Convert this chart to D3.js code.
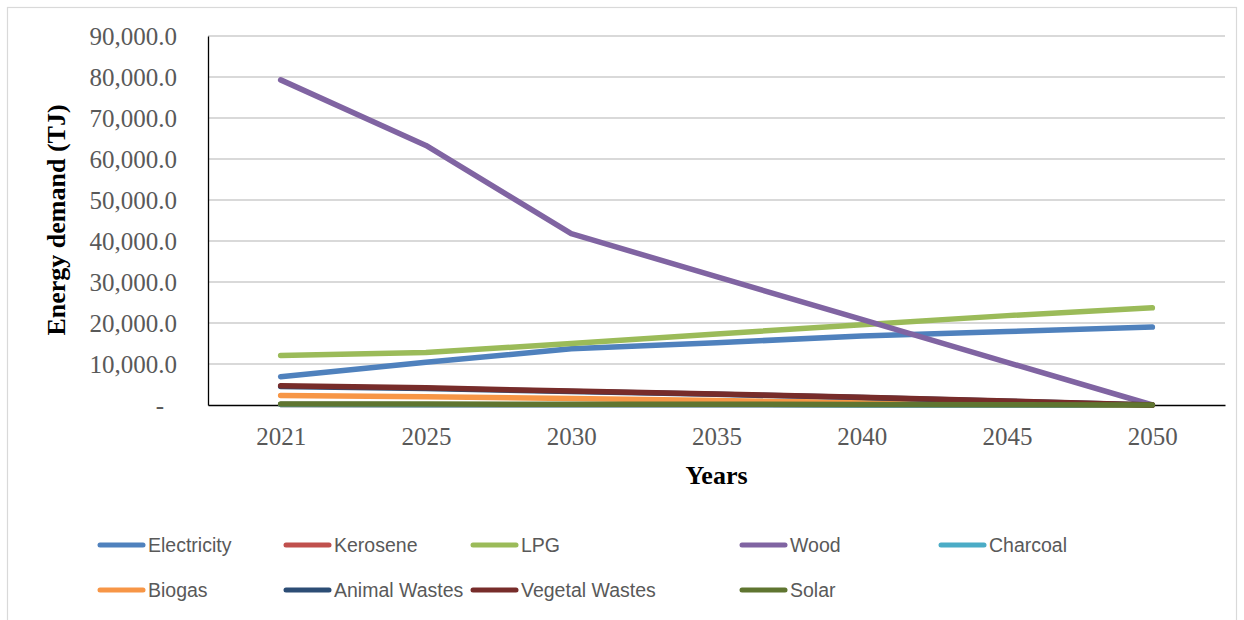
<!DOCTYPE html>
<html>
<head>
<meta charset="utf-8">
<script src="https://cdn.jsdelivr.net/npm/d3@7"></script>
<style>
  body { margin: 0; background: #fff; }
  .tick text { fill: #595959; }
</style>
</head>
<body>
<div id="chart"></div>
<script>
let years = ["2021", "2025", "2030", "2035", "2040", "2045", "2050"];
let seriesNames = ["Electricity", "Kerosene", "LPG", "Wood", "Charcoal", "Biogas", "Animal Wastes", "Vegetal Wastes", "Solar"];

let electricity = [6900, 10400, 13700, 15200, 16800, 17900, 19000];
let kerosene = [100, 80, 60, 40, 30, 20, 0];
let lpg = [12100, 12800, 15000, 17300, 19600, 21800, 23700];
let wood = [79300, 63300, 41800, 31300, 20900, 10400, 0];
let charcoal = [100, 80, 60, 40, 30, 20, 0];
let biogas = [2300, 2000, 1600, 1100, 600, 300, 0];
let animalWastes = [4500, 4000, 3300, 2600, 1800, 900, 0];
let vegetalWastes = [4700, 4200, 3400, 2700, 1900, 1000, 0];
let solar = [250, 230, 200, 170, 130, 80, 0];

let yTicks = [0, 10000, 20000, 30000, 40000, 50000, 60000, 70000, 80000, 90000];

let colors = ["#4F81BD", "#C0504D", "#9BBB59", "#8064A2", "#4BACC6", "#F79646", "#2C4D75", "#772C2A", "#5F7530"];

let allValues = [electricity, kerosene, lpg, wood, charcoal, biogas, animalWastes, vegetalWastes, solar];

let width = 1244;
let height = 620;
let plotLeft = 208, plotRight = 1225, plotTop = 36, plotBottom = 405;

let svg = d3.select("#chart")
    .append("svg")
    .attr("width", width)
    .attr("height", height);

svg.append("rect")
    .attr("x", 7.5)
    .attr("y", 7.5)
    .attr("width", 1229)
    .attr("height", 640)
    .attr("fill", "#fff")
    .attr("stroke", "#d9d9d9")
    .attr("stroke-width", 1.2);

let x = d3.scalePoint()
    .domain(years)
    .range([plotLeft, plotRight])
    .padding(0.5);

let y = d3.scaleLinear()
    .domain([0, 90000])
    .range([plotBottom, plotTop]);

// gridlines
svg.append("g")
    .selectAll("line")
    .data(yTicks.filter(d => d > 0))
    .enter().append("line")
    .attr("x1", plotLeft)
    .attr("x2", plotRight)
    .attr("y1", d => y(d))
    .attr("y2", d => y(d))
    .attr("stroke", "#d9d9d9")
    .attr("stroke-width", 1.8);

// y axis
let yAxis = svg.append("g")
    .attr("transform", "translate(" + plotLeft + ",0)")
    .call(d3.axisLeft(y)
        .tickValues(yTicks)
        .tickSize(0)
        .tickPadding(31)
        .tickFormat(d => d === 0 ? "-" : d3.format(",.1f")(d)));
yAxis.select(".domain").attr("stroke", "#000").attr("stroke-width", 1.3);
yAxis.selectAll("text")
    .style("font-family", "'Liberation Serif', 'Times New Roman', serif")
    .style("font-size", "25px")
    .attr("dx", d => d === 0 ? -13 : 0);

// x axis
let xAxis = svg.append("g")
    .attr("transform", "translate(0," + plotBottom + ")")
    .call(d3.axisBottom(x).tickSize(0).tickPadding(22));
xAxis.select(".domain").attr("stroke", "#000").attr("stroke-width", 1.6);
xAxis.selectAll("text")
    .style("font-family", "'Liberation Serif', 'Times New Roman', serif")
    .style("font-size", "25px");

// axis titles
svg.append("text")
    .attr("transform", "translate(65,220) rotate(-90)")
    .attr("text-anchor", "middle")
    .style("font-family", "'Liberation Serif', 'Times New Roman', serif")
    .style("font-size", "26px")
    .style("font-weight", "bold")
    .text("Energy demand (TJ)");

svg.append("text")
    .attr("x", (plotLeft + plotRight) / 2)
    .attr("y", 484)
    .attr("text-anchor", "middle")
    .style("font-family", "'Liberation Serif', 'Times New Roman', serif")
    .style("font-size", "26px")
    .style("font-weight", "bold")
    .text("Years");

// lines
let line = d3.line()
    .x((d, i) => x(years[i]))
    .y(d => y(d));

svg.append("g")
    .selectAll("path")
    .data(allValues)
    .enter().append("path")
    .attr("d", line)
    .attr("fill", "none")
    .attr("stroke", (d, i) => colors[i])
    .attr("stroke-width", 5.5)
    .attr("stroke-linecap", "round")
    .attr("stroke-linejoin", "round");

// legend
let legendCols = [98, 284, 471, 740, 939];
let legendRows = [545, 590];
let legendPos = [[0, 0], [1, 0], [2, 0], [3, 0], [4, 0], [0, 1], [1, 1], [2, 1], [3, 1]];

let legendG = svg.selectAll(".legend")
    .data(seriesNames)
    .enter().append("g")
    .attr("class", "legend")
    .attr("transform", (d, i) => "translate(" + legendCols[legendPos[i][0]] + "," + legendRows[legendPos[i][1]] + ")");

legendG.append("line")
    .attr("x1", 2)
    .attr("x2", 45)
    .attr("stroke", (d, i) => colors[i])
    .attr("stroke-width", 5)
    .attr("stroke-linecap", "round");

legendG.append("text")
    .attr("x", 50)
    .attr("dy", "0.35em")
    .style("font-family", "'Liberation Sans', Arial, sans-serif")
    .style("font-size", "19.5px")
    .attr("fill", "#595959")
    .text(d => d);
</script>
</body>
</html>
